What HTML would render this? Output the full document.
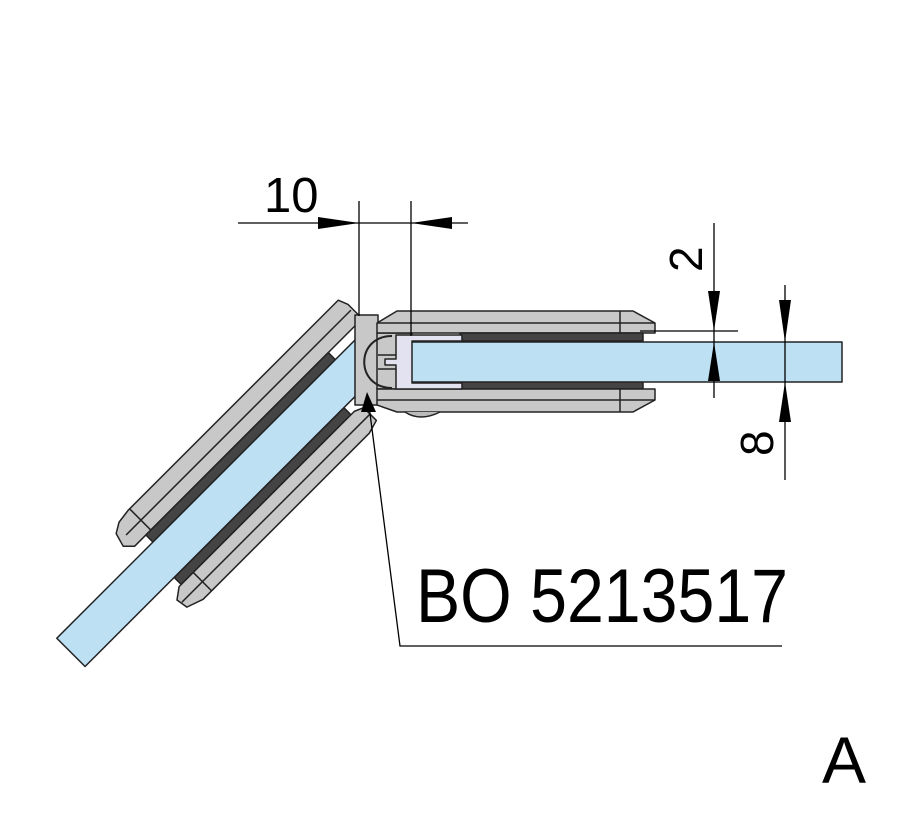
<!DOCTYPE html>
<html><head><meta charset="utf-8"><style>
html,body{margin:0;padding:0;background:#fff;}
svg{display:block;}
text{font-family:"Liberation Sans",sans-serif;fill:#000;}
</style></head><body>
<svg width="909" height="820" viewBox="0 0 909 820" xmlns="http://www.w3.org/2000/svg">
<g stroke="#222" stroke-width="1.5" stroke-linejoin="round">
<g transform="translate(358,337) rotate(-45)">
  <polygon points="-300,-38 -285,-40 12,-40 16,-30 16,-10 -306,-10 -314,-18 -310,-32" fill="#c8c8c8"/>
  <line x1="-304" y1="-24" x2="14" y2="-24"/>
  <line x1="-283" y1="-40" x2="-283" y2="-10"/>
  <rect x="-290" y="-10" width="258" height="10" fill="#444"/>
  <rect x="-300" y="40" width="240" height="10" fill="#444"/>
  <polygon points="-303,50 -55,50 -46,54 -46,72 -60,76 -295,76 -312,70 -314,58" fill="#c8c8c8"/>
  <line x1="-312" y1="63" x2="-46" y2="63"/>
  <line x1="-283" y1="50" x2="-283" y2="76"/>
  <polygon points="0,0 -40,40 -426,40 -426,0" fill="#bde0f3"/>
</g>
<rect x="355" y="315" width="23" height="90" fill="#c8c8c8"/>
<rect x="377" y="333" width="35" height="56" fill="#c8c8c8"/>
<polygon points="377,323 397,311 633,311 655,323 655,333 377,333" fill="#c8c8c8"/>
<line x1="377" y1="323" x2="655" y2="323"/>
<line x1="620" y1="311" x2="620" y2="333"/>
<rect x="460" y="333" width="183" height="8" fill="#444"/>
<rect x="460" y="381" width="183" height="8" fill="#444"/>
<polygon points="377,389 655,389 655,400 633,412 397,412 377,405" fill="#c8c8c8"/>
<line x1="377" y1="400" x2="655" y2="400"/>
<line x1="620" y1="389" x2="620" y2="412"/>
<path d="M405,412 Q420,422 440,412" fill="#bbb"/>
<rect x="410" y="342" width="432" height="40" fill="#bde0f3"/>
<path d="M396,335 L462,335 L462,341 L412,341 L412,383 L462,383 L462,389 L396,389 L396,365 L385,365 L385,359 L396,359 Z" fill="#e2e2f0"/>
<path d="M392,336 C355,336 355,388 392,388" fill="none" stroke-width="2"/>
<line x1="378" y1="355" x2="396" y2="355"/>
<line x1="378" y1="369" x2="396" y2="369"/>
</g>
<g stroke="#000" stroke-width="1.3" fill="none">
<line x1="238" y1="223" x2="468" y2="223"/>
<line x1="359" y1="201" x2="359" y2="316"/>
<line x1="411" y1="201" x2="411" y2="336"/>
<line x1="714" y1="223" x2="714" y2="398"/>
<line x1="640" y1="331" x2="738" y2="331"/>
<line x1="785" y1="285" x2="785" y2="480"/>
<polyline points="368,398 400,646 782,646"/>
</g>
<g fill="#000">
<polygon points="318,217 318,229 359,223"/>
<polygon points="452,217 452,229 411,223"/>
<polygon points="708,291 720,291 714,331"/>
<polygon points="708,381 720,381 714,342"/>
<polygon points="779,300 791,300 785,342"/>
<polygon points="779,422 791,422 785,382"/>
<polygon points="361,412 376,412 367,392"/>
</g>
<text x="264" y="212" font-size="49">10</text>
<text transform="translate(702,272) rotate(-90)" font-size="46">2</text>
<text transform="translate(773,456) rotate(-90)" font-size="46">8</text>
<text x="416" y="622" font-size="76" textLength="372" lengthAdjust="spacingAndGlyphs">BO 5213517</text>
<text x="822" y="783" font-size="66">A</text>
</svg>
</body></html>
